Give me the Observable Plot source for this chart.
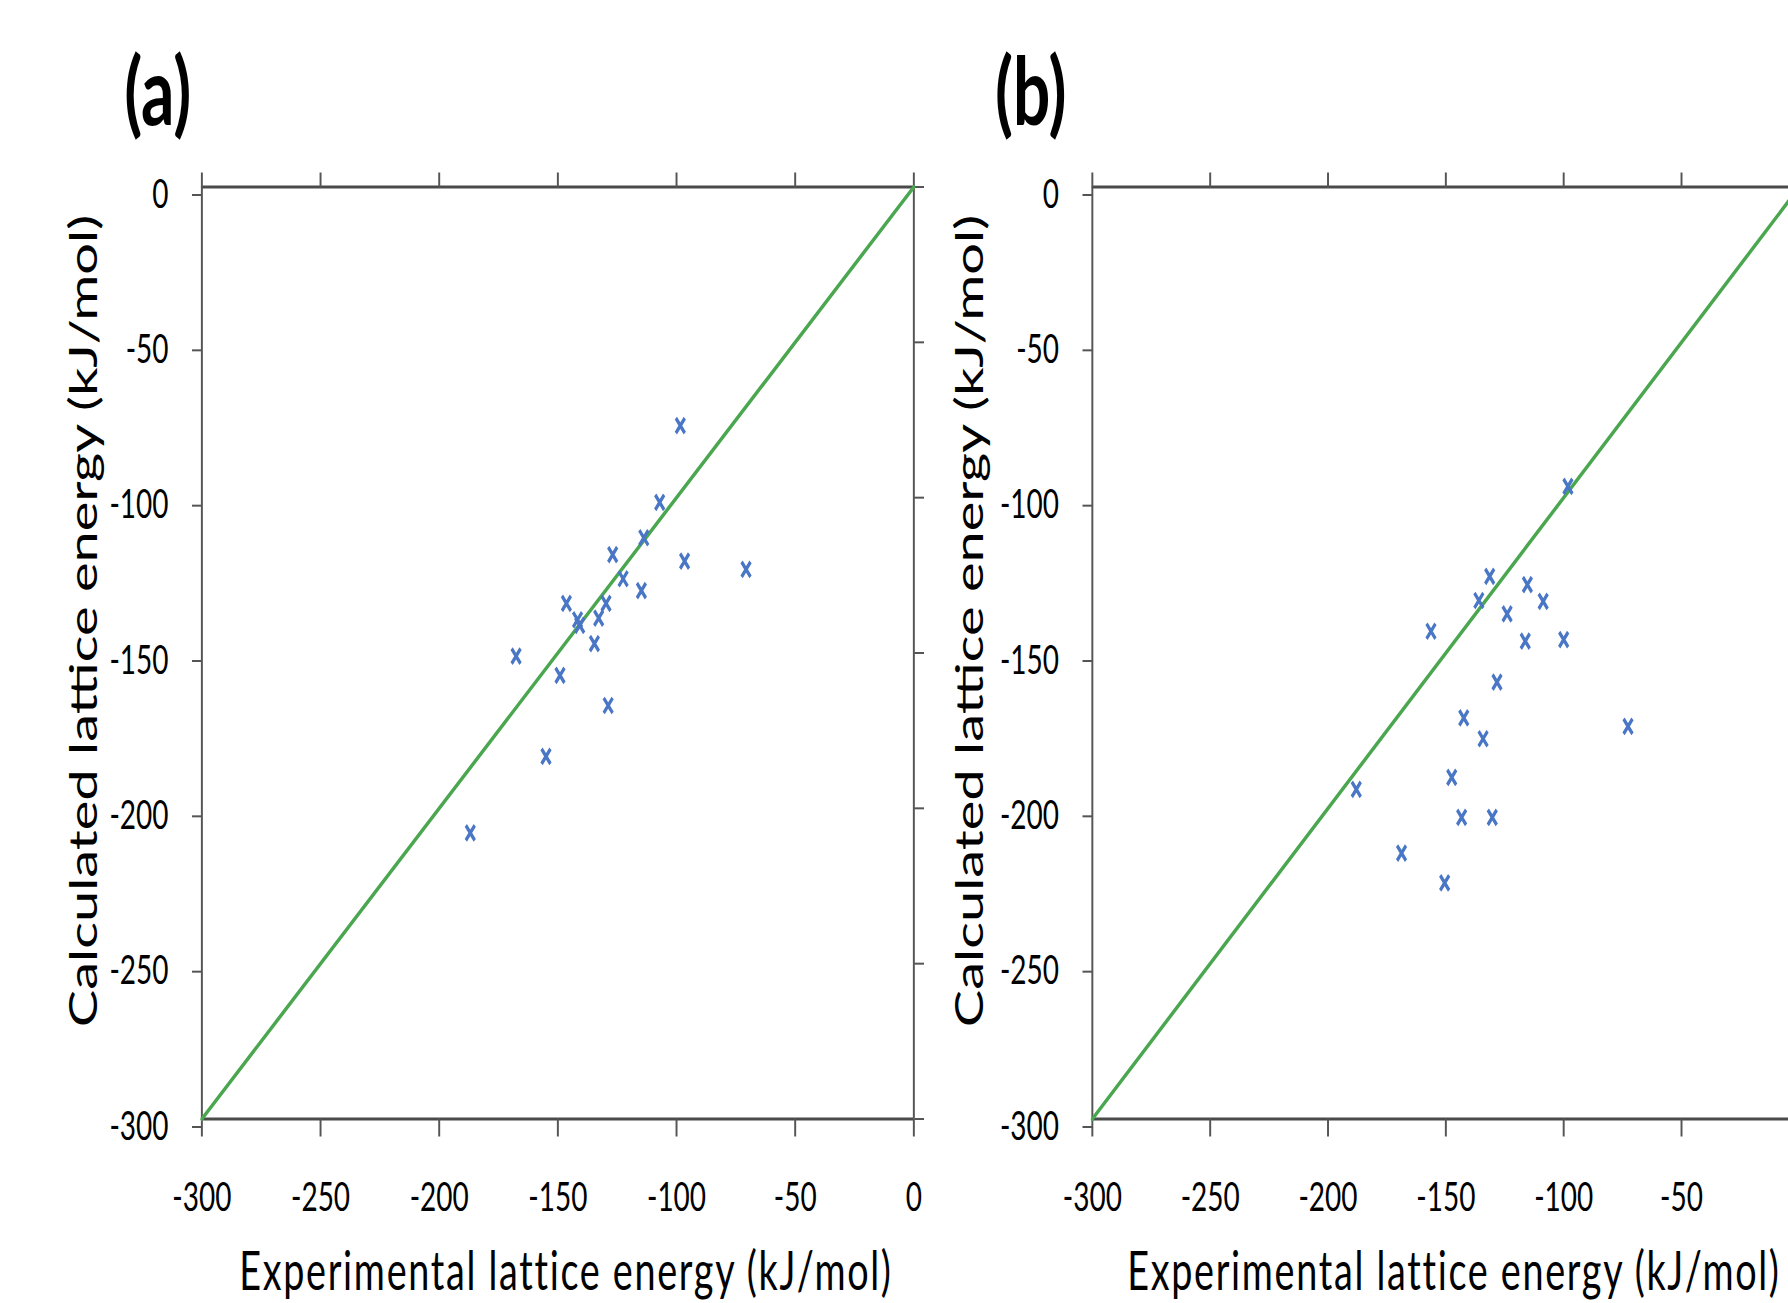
<!DOCTYPE html>
<html><head><meta charset="utf-8">
<script src="https://cdn.jsdelivr.net/npm/d3@7"></script>
<script src="https://cdn.jsdelivr.net/npm/@observablehq/plot@0.6"></script>
<style>
html,body{margin:0;padding:0;overflow:hidden;background:#fff;width:1788px;height:1303px;}
#wrap{display:flex;align-items:flex-start;transform:scaleX(0.7);transform-origin:0 0;width:2600px;}
#wrap svg{display:block;flex:none;}
</style></head><body><div id="wrap"></div>
<script>
// Panel (a)
const expA  = [-98.4, -107.1, -113.8, -126.9, -96.6, -70.7, -122.5, -114.8, -146.4, -129.7, -132.8, -141.7, -140.8, -134.6, -167.6, -149.1, -128.8, -155.0, -186.9];
const calcA = [-76.8, -101.5, -112.9, -118.3, -120.4, -123.1, -126.1, -129.9, -134.0, -134.0, -138.8, -139.3, -141.1, -147.0, -151.0, -157.2, -166.9, -183.3, -207.9];
// Panel (b)
const expB  = [-98.2, -131.4, -115.4, -136.0, -108.7, -124.0, -156.3, -116.3, -100.0, -128.3, -142.4, -72.7, -134.2, -147.5, -188.0, -143.3, -130.3, -168.8, -150.5];
const calcB = [-96.4, -125.3, -128.0, -133.1, -133.4, -137.4, -143.0, -146.2, -145.7, -159.4, -170.9, -173.6, -177.6, -190.0, -193.9, -202.9, -202.9, -214.4, -224.0];

const xTicks = [-300, -250, -200, -150, -100, -50, 0];
const yTicks = [-300, -250, -200, -150, -100, -50, 0];
const xLabelTicksA = [-300, -250, -200, -150, -100, -50, 0];
const xLabelTicksB = [-300, -250, -200, -150, -100, -50];
const diagonal = [-300, 0];
const xTitle = "Experimental lattice energy (kJ/mol)";
const yTitle = "Calculated lattice energy (kJ/mol)";

const FONT = "Lato, 'Open Sans', sans-serif";
const BLUE = "#4a76c6";
const GREEN = "#4aa64f";
const AXIS = "#555555";

// tall "x" marker (Excel-like cross)
const tallTimes = {
  draw(ctx, size) {
    const h = Math.sqrt(size / Math.PI);
    const w = h * 0.85;
    ctx.moveTo(-w, -h); ctx.lineTo(w, h);
    ctx.moveTo(-w, h); ctx.lineTo(w, -h);
  }
};

function panel({exp, calc, tag, marginLeft, frameWidth, marginRight, xLabelTicks, tagDx, yTitleDx}) {
  const data = exp.map((x, i) => ({x, y: calc[i]}));
  const fmt = d => String(d);
  const svg = Plot.plot({
    width: marginLeft + frameWidth + marginRight,
    height: 1303,
    marginTop: 186.5,
    marginBottom: 184.5,
    marginLeft,
    marginRight,
    x: {domain: [-300, 0]},
    y: {domain: [-300, 0]},
    style: {fontFamily: FONT, background: "white", overflow: "visible", color: "#000"},
    marks: [
      Plot.ruleX([-300, 0], {stroke: AXIS, strokeWidth: 2.8}),
      Plot.ruleY([0, -300], {stroke: "#4a4a4a", strokeWidth: 3}),
      Plot.axisX({anchor: "top", ticks: xTicks, tickSize: 15, fill: "none", stroke: AXIS, strokeWidth: 2.8, label: null}),
      Plot.axisX({anchor: "bottom", ticks: xTicks, tickSize: 18, fill: "none", stroke: AXIS, strokeWidth: 2.8, label: null}),
      Plot.axisX({anchor: "bottom", ticks: xLabelTicks, tickSize: 0, tickPadding: 64, tickFormat: fmt, fontSize: 40, fill: "#000", label: null}),
      Plot.axisY({anchor: "left", ticks: yTicks, tickSize: 13.6, tickPadding: 34, tickFormat: fmt, fontSize: 40, fill: "#000", stroke: AXIS, strokeWidth: 2, dy: 8, label: null}),
      Plot.axisY({anchor: "right", ticks: yTicks, tickSize: 14, fill: "none", stroke: AXIS, strokeWidth: 2, label: null}),
      Plot.line(diagonal, {x: d => d, y: d => d, stroke: GREEN, strokeWidth: 4.2}),
      Plot.dot(data, {x: "x", y: "y", symbol: tallTimes, r: 7.5, fill: "none", stroke: BLUE, strokeWidth: 4.2}),
      Plot.text([tag], {frameAnchor: "top-left", textAnchor: "middle", lineAnchor: "middle", dx: tagDx, dy: -92, fontSize: 94, fontWeight: "bold", fill: "#000"}),
      Plot.text([yTitle], {frameAnchor: "left", textAnchor: "middle", lineAnchor: "bottom", rotate: -90, dx: yTitleDx, dy: -32, fontSize: 56, fill: "#000"}),
      Plot.text([xTitle], {frameAnchor: "bottom", textAnchor: "middle", lineAnchor: "bottom", dx: 11.5, dy: 171, fontSize: 54, fill: "#000"})
    ]
  });
  svg.querySelectorAll("text").forEach(t => {
    if (t.textContent === xTitle) t.style.letterSpacing = "2.4px";
  });
  return svg;
}

const wrap = document.getElementById("wrap");
wrap.appendChild(panel({exp: expA, calc: calcA, tag: "(a)", marginLeft: 287.9, frameWidth: 1017.1, marginRight: 90, xLabelTicks: xLabelTicksA, tagDx: -63, yTitleDx: -149.8}));
wrap.appendChild(panel({exp: expB, calc: calcB, tag: "(b)", marginLeft: 165, frameWidth: 1010, marginRight: 30, xLabelTicks: xLabelTicksB, tagDx: -88, yTitleDx: -156.1}));
</script></body></html>
